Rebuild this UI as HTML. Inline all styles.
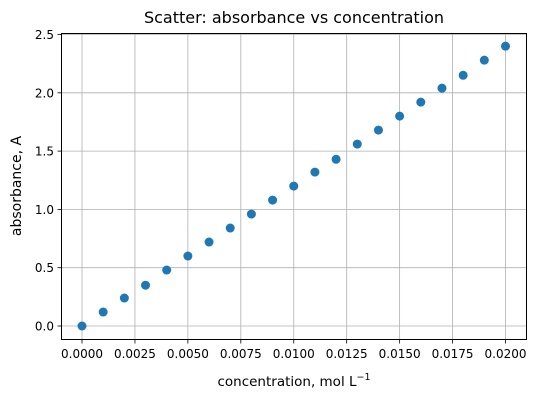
<!DOCTYPE html>
<html><head><meta charset="utf-8"><style>
body{margin:0;background:#fff}
svg{display:block;font-family:"DejaVu Sans","Liberation Sans",sans-serif}
</style></head><body>
<svg id="chart" width="539" height="400">
<rect width="539" height="400" fill="#fff"/>
<g id="grid"></g><g id="ticks"></g><g id="marks"></g>
<rect x="61.5" y="33.5" width="465" height="306" fill="none" stroke="#000" stroke-width="1"/>
<text x="294" y="23" font-size="16" text-anchor="middle">Scatter: absorbance vs concentration</text>
<text x="294" y="386" font-size="13.5" text-anchor="middle">concentration, mol L<tspan dy="-6" font-size="9.5">−1</tspan></text>
<text transform="translate(21,186) rotate(-90)" font-size="14" text-anchor="middle">absorbance, A</text>
</svg>
<script>
const concentrations=[0,0.001,0.002,0.003,0.004,0.005,0.006,0.007,0.008,0.009,0.010,0.011,0.012,0.013,0.014,0.015,0.016,0.017,0.018,0.019,0.020];
const absorbances=[0,0.12,0.24,0.35,0.48,0.60,0.72,0.84,0.96,1.08,1.20,1.32,1.43,1.56,1.68,1.80,1.92,2.04,2.15,2.28,2.40];
const xTicks=[0,0.0025,0.005,0.0075,0.01,0.0125,0.015,0.0175,0.02];
const xTickLabels=["0.0000","0.0025","0.0050","0.0075","0.0100","0.0125","0.0150","0.0175","0.0200"];
const yTicks=[0,0.5,1,1.5,2,2.5];
const yTickLabels=["0.0","0.5","1.0","1.5","2.0","2.5"];
const X=v=>82+v/0.02*423.5;
const Y=v=>326-v/2.5*291.5;
const NS="http://www.w3.org/2000/svg";
const g=document.getElementById('grid'),t=document.getElementById('ticks'),m=document.getElementById('marks');
function mk(p,tag,a){const e=document.createElementNS(NS,tag);for(const k in a)e.setAttribute(k,a[k]);p.appendChild(e);return e;}
xTicks.forEach((v,i)=>{const x=X(v);
 const l=mk(g,'line',{x1:x,x2:x,y1:33.5,y2:339.5,stroke:'#b0b0b0','stroke-width':0.8});
 
 
 mk(t,'line',{x1:x,x2:x,y1:339.5,y2:343.5,stroke:'#000','stroke-width':0.8});
 const tx=mk(t,'text',{x:x,y:358,'font-size':12,'text-anchor':'middle'});tx.textContent=xTickLabels[i];
 
 
});
yTicks.forEach((v,i)=>{const y=Y(v);
 const l=mk(g,'line',{x1:61.5,x2:526.5,y1:y,y2:y,stroke:'#b0b0b0','stroke-width':0.8});
 
 
 mk(t,'line',{x1:57.5,x2:61.5,y1:y,y2:y,stroke:'#000','stroke-width':0.8});
 const tx=mk(t,'text',{x:54,y:y+4.5,'font-size':12,'text-anchor':'end'});tx.textContent=yTickLabels[i];
 
 
});
concentrations.forEach((c,i)=>{
 const p=mk(m,'circle',{cx:X(c),cy:Y(absorbances[i]),r:4.5,fill:'#1f77b4'});
 
 
});
</script>
</body></html>
